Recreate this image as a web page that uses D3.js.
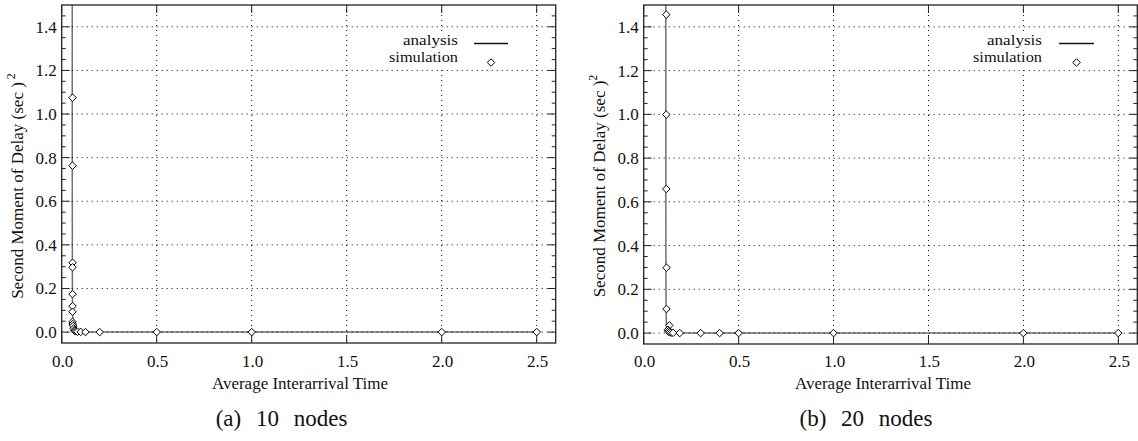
<!DOCTYPE html>
<html><head><meta charset="utf-8">
<script src="https://cdn.jsdelivr.net/npm/d3@7"></script>
<style>body{margin:0;background:#fff}svg{display:block}text{font-family:"Liberation Serif","Times New Roman",serif;fill:#111}</style>
</head><body>
<svg id="c" width="1138" height="441"></svg>
<script>
// ---- data ----
const xTickValues = [0, 0.5, 1.0, 1.5, 2.0, 2.5];
const yTickValues = [0, 0.2, 0.4, 0.6, 0.8, 1.0, 1.2, 1.4];
const xAxisTitle = "Average Interarrival Time";
const yAxisTitle = "Second Moment of Delay (sec )";
const legendLabels = ["analysis", "simulation"];

// (a) 10 nodes
const captionA = "(a) 10 nodes";
const analysisA_x = [0.0555, 0.0556, 0.0558, 0.0562, 0.057, 0.06, 0.065, 0.075, 0.1, 0.2, 0.5, 1.0, 2.0, 2.5];
const analysisA_y = [1.6, 1.0, 0.5, 0.25, 0.1, 0.03, 0.012, 0.004, 0.001, 0.0002, 0, 0, 0, 0];
const simA_x = [0.057, 0.057, 0.057, 0.057, 0.057, 0.057, 0.057, 0.057, 0.058, 0.06, 0.063, 0.066, 0.07, 0.075, 0.083, 0.1, 0.125, 0.2, 0.5, 1.0, 2.0, 2.5];
const simA_y = [1.075, 0.763, 0.318, 0.297, 0.174, 0.119, 0.093, 0.047, 0.037, 0.028, 0.017, 0.009, 0.005, 0.003, 0.002, 0.001, 0.0, 0.0, 0.0, 0.0, 0.0, 0.0];

// (b) 20 nodes
const captionB = "(b) 20 nodes";
const analysisB_x = [0.1165, 0.1166, 0.1168, 0.1172, 0.118, 0.12, 0.125, 0.135, 0.16, 0.25, 0.5, 1.0, 2.0, 2.5];
const analysisB_y = [1.6, 1.0, 0.5, 0.25, 0.1, 0.03, 0.012, 0.004, 0.001, 0.0002, 0, 0, 0, 0];
const simB_x = [0.119, 0.119, 0.119, 0.12, 0.12, 0.135, 0.127, 0.13, 0.135, 0.145, 0.155, 0.19, 0.3, 0.4, 0.5, 1.0, 2.0, 2.5];
const simB_y = [1.456, 0.999, 0.659, 0.299, 0.110, 0.035, 0.015, 0.008, 0.004, 0.002, 0.001, 0.0, 0.0, 0.0, 0.0, 0.0, 0.0, 0.0];

const svg = d3.select("#c");

function panel(cfg) {
  const x = d3.scaleLinear().domain([0, 2.6]).range([cfg.left, cfg.right]);
  const y = d3.scaleLinear().domain([-0.05, 1.5]).range([cfg.bottom, cfg.top]);
  const g = svg.append("g");
  const clipId = "clip" + cfg.id;
  svg.append("clipPath").attr("id", clipId).append("rect")
    .attr("x", cfg.left).attr("y", cfg.top).attr("width", cfg.right - cfg.left).attr("height", cfg.bottom - cfg.top);

  // analysis line
  const line = d3.line().x(d => x(d[0])).y(d => y(d[1]));
  g.append("path").datum(cfg.ax.map((v, i) => [v, cfg.ay[i]]))
    .attr("d", line).attr("fill", "none").attr("stroke", "#707070").attr("stroke-width", 1.5)
    .attr("clip-path", `url(#${clipId})`);

  // grid
  const grid = g.append("g").attr("stroke", "#000").attr("stroke-width", 1).attr("stroke-dasharray", "1,4");
  xTickValues.filter(v => v > 0).forEach(v => {
    grid.append("line").attr("x1", x(v)).attr("x2", x(v)).attr("y1", cfg.top).attr("y2", cfg.bottom);
  });
  yTickValues.forEach(v => {
    grid.append("line").attr("x1", cfg.left).attr("x2", cfg.right).attr("y1", y(v)).attr("y2", y(v));
  });

  // legend background
  g.append("rect").attr("x", cfg.legTextX - 72).attr("y", 34).attr("width", cfg.legLineX2 - cfg.legTextX + 78).attr("height", 33)
    .attr("fill", "#fff");

  // ticks (major, mirrored) and minor y ticks
  const tk = g.append("g").attr("stroke", "#222").attr("stroke-width", 1);
  xTickValues.forEach(v => {
    tk.append("line").attr("x1", x(v)).attr("x2", x(v)).attr("y1", cfg.bottom).attr("y2", cfg.bottom - 8);
    tk.append("line").attr("x1", x(v)).attr("x2", x(v)).attr("y1", cfg.top).attr("y2", cfg.top + 8);
  });
  yTickValues.forEach(v => {
    tk.append("line").attr("x1", cfg.left).attr("x2", cfg.left + 8).attr("y1", y(v)).attr("y2", y(v));
    tk.append("line").attr("x1", cfg.right).attr("x2", cfg.right - 8).attr("y1", y(v)).attr("y2", y(v));
  });
  d3.range(-1, 30).map(i => i * 0.05).filter(v => v > -0.05 && v < 1.5 && Math.abs(Math.round(v / 0.2) * 0.2 - v) > 1e-6).forEach(v => {
    tk.append("line").attr("x1", cfg.left).attr("x2", cfg.left + 4).attr("y1", y(v)).attr("y2", y(v));
    tk.append("line").attr("x1", cfg.right).attr("x2", cfg.right - 4).attr("y1", y(v)).attr("y2", y(v));
  });

  // frame
  g.append("rect").attr("x", cfg.left).attr("y", cfg.top).attr("width", cfg.right - cfg.left).attr("height", cfg.bottom - cfg.top)
    .attr("fill", "none").attr("stroke", "#222").attr("stroke-width", 1.3);

  // diamonds
  const diamond = d3.symbol().type(d3.symbolDiamond2).size(36);
  g.append("g").selectAll("path").data(cfg.sx.map((v, i) => [v, cfg.sy[i]])).join("path")
    .attr("d", diamond).attr("transform", d => `translate(${x(d[0])},${y(d[1])})`)
    .attr("fill", "#fff").attr("stroke", "#000").attr("stroke-width", 1);

  // tick labels
  xTickValues.forEach(v => {
    g.append("text").attr("x", x(v) + 1).attr("y", 367).attr("text-anchor", "middle").attr("font-size", 17).text(v.toFixed(1));
  });
  yTickValues.forEach(v => {
    g.append("text").attr("x", cfg.left - 5).attr("y", y(v)).attr("dy", "0.35em").attr("text-anchor", "end").attr("font-size", 17).text(v.toFixed(1));
  });

  // axis titles
  g.append("text").attr("x", cfg.xTitleX).attr("y", 389).attr("text-anchor", "middle").attr("font-size", 17).text(xAxisTitle);
  const yt = g.append("text").attr("transform", `translate(${cfg.yTitleX},${cfg.yTitleY}) rotate(-90)`)
    .attr("text-anchor", "middle").attr("font-size", 17);
  yt.append("tspan").text(yAxisTitle);
  yt.append("tspan").attr("dy", -8).attr("font-size", 12).text(cfg.supGap + "2");

  // caption
  g.append("text").attr("x", cfg.capX).attr("y", 426).attr("text-anchor", "middle").attr("font-size", 23)
    .attr("word-spacing", "9px").text(cfg.caption);

  // legend
  g.append("text").attr("x", cfg.legTextX).attr("y", 45).attr("text-anchor", "end").attr("font-size", 14.5)
    .attr("textLength", 55).attr("lengthAdjust", "spacingAndGlyphs").text(legendLabels[0]);
  g.append("text").attr("x", cfg.legTextX).attr("y", 62).attr("text-anchor", "end").attr("font-size", 14.5)
    .attr("textLength", 69).attr("lengthAdjust", "spacingAndGlyphs").text(legendLabels[1]);
  g.append("line").attr("x1", cfg.legLineX1).attr("x2", cfg.legLineX2).attr("y1", 43.5).attr("y2", 43.5)
    .attr("stroke", "#111").attr("stroke-width", 1.3);
  g.append("path").attr("d", diamond).attr("transform", `translate(${(cfg.legLineX1 + cfg.legLineX2) / 2},62.5)`)
    .attr("fill", "#fff").attr("stroke", "#000").attr("stroke-width", 1);
}

panel({id: "a", left: 61.7, right: 555.7, top: 5, bottom: 343, ax: analysisA_x, ay: analysisA_y, sx: simA_x, sy: simA_y,
  caption: captionA, capX: 281.5, xTitleX: 300, yTitleX: 23, yTitleY: 186, supGap: " ",
  legTextX: 458, legLineX1: 474, legLineX2: 508});
panel({id: "b", left: 643.7, right: 1137.3, top: 5, bottom: 344, ax: analysisB_x, ay: analysisB_y, sx: simB_x, sy: simB_y,
  caption: captionB, capX: 866, xTitleX: 883, yTitleX: 605, yTitleY: 186, supGap: "",
  legTextX: 1042, legLineX1: 1059, legLineX2: 1094});
</script>
</body></html>
